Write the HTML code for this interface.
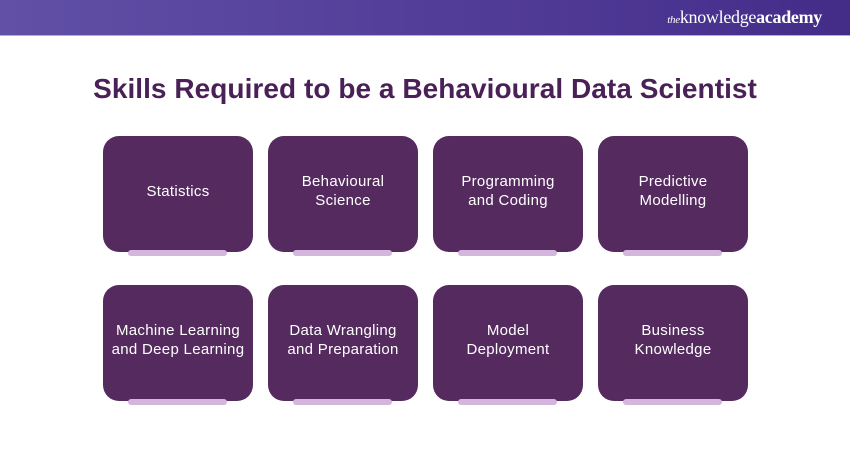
<!DOCTYPE html>
<html><head><meta charset="utf-8"><style>
*{margin:0;padding:0;box-sizing:border-box}
body{width:850px;height:450px;background:#fff;position:relative;overflow:hidden;font-family:"Liberation Sans",sans-serif}
.hdr{position:absolute;left:0;top:0;width:850px;height:36px;background:linear-gradient(90deg,#6150a6,#4a3491 80%,#432c87);border-bottom:1px solid #b7a9d8}
.logo{position:absolute;right:28px;top:7px;color:#fff;font-family:"Liberation Serif",serif;font-size:18px;letter-spacing:-0.3px}
.logo i{font-size:11px}
.logo b{font-weight:bold}
h1{position:absolute;left:0;width:850px;top:73px;text-align:center;font-size:28px;font-weight:bold;color:#4a2157;letter-spacing:0.05px}
.c{position:absolute;width:150px;height:116px;background:#542a5f;border-radius:16px;color:#fff;font-size:15px;letter-spacing:0.3px;line-height:19px;display:flex;align-items:center;justify-content:center;text-align:center;padding-bottom:6px;white-space:nowrap}
.bar{position:absolute;width:99px;height:6px;background:#d3b5dd;border-radius:3px}
</style></head><body>
<div class="hdr"><div class="logo"><i>the</i>knowledge<b>academy</b></div></div>
<h1>Skills Required to be a Behavioural Data Scientist</h1>

<div class="c" style="left:103px;top:136px">Statistics</div>
<div class="c" style="left:268px;top:136px">Behavioural<br>Science</div>
<div class="c" style="left:433px;top:136px">Programming<br>and Coding</div>
<div class="c" style="left:598px;top:136px">Predictive<br>Modelling</div>
<div class="bar" style="left:128px;top:250px"></div>
<div class="bar" style="left:293px;top:250px"></div>
<div class="bar" style="left:458px;top:250px"></div>
<div class="bar" style="left:623px;top:250px"></div>

<div class="c" style="left:103px;top:285px">Machine Learning<br>and Deep Learning</div>
<div class="c" style="left:268px;top:285px">Data Wrangling<br>and Preparation</div>
<div class="c" style="left:433px;top:285px">Model<br>Deployment</div>
<div class="c" style="left:598px;top:285px">Business<br>Knowledge</div>
<div class="bar" style="left:128px;top:399px"></div>
<div class="bar" style="left:293px;top:399px"></div>
<div class="bar" style="left:458px;top:399px"></div>
<div class="bar" style="left:623px;top:399px"></div>
</body></html>
